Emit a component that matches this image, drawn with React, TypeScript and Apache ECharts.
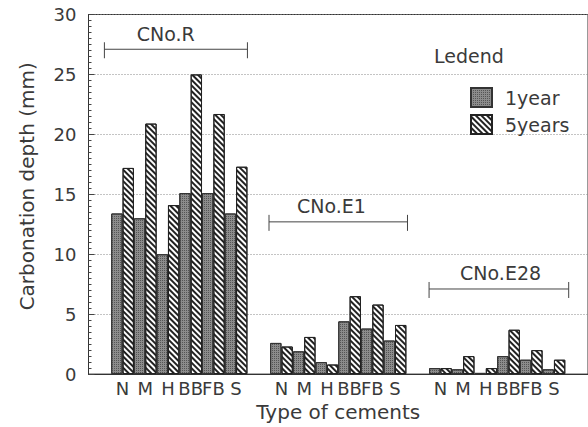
import React, { useEffect, useRef } from 'react';
import * as echarts from 'echarts';

// ---- data ----
const cementTypes = ['N', 'M', 'H', 'BB', 'FB', 'S'];
const groupNames = ['CNo.R', 'CNo.E1', 'CNo.E28'];
const seriesNames = ['1year', '5years'];

const oneYearR = [13.4, 13.0, 10.0, 15.1, 15.1, 13.4];
const fiveYearsR = [17.2, 20.9, 14.1, 25.0, 21.7, 17.3];
const oneYearE1 = [2.6, 1.9, 1.0, 4.4, 3.8, 2.8];
const fiveYearsE1 = [2.3, 3.1, 0.8, 6.5, 5.8, 4.1];
const oneYearE28 = [0.5, 0.4, 0.1, 1.5, 1.2, 0.4];
const fiveYearsE28 = [0.5, 1.5, 0.5, 3.7, 2.0, 1.2];

// bracket annotations (category-index units, y value)
const bracketStart = [0.2, 7.45, 14.5];
const bracketEnd = [6.5, 13.55, 20.65];
const bracketLevel = [27.1, 12.7, 7.1];
const bracketLabelX = [2.9, 10.2, 17.65];

const yTicks = { min: 0, max: 30, interval: 5 };

// ---- build category axis: blank, 6 types, blank, 6 types, blank, 6 types, blank ----
const categories: string[] = [];
const oneYear: (number | null)[] = [];
const fiveYears: (number | null)[] = [];
const oneYearGroups = [oneYearR, oneYearE1, oneYearE28];
const fiveYearsGroups = [fiveYearsR, fiveYearsE1, fiveYearsE28];
groupNames.forEach((_, g) => {
  categories.push('');
  oneYear.push(null);
  fiveYears.push(null);
  cementTypes.forEach((t, i) => {
    categories.push(t);
    oneYear.push(oneYearGroups[g][i]);
    fiveYears.push(fiveYearsGroups[g][i]);
  });
});
categories.push('');
oneYear.push(null);
fiveYears.push(null);

const FONT = 'DejaVu Sans';
const TEXT = '#3a3a3a';
const LINE = '#333';

export default function App() {
  const ref = useRef<HTMLDivElement>(null);
  useEffect(() => {
    const chart = echarts.init(ref.current!, null, { renderer: 'svg' });
    const catW = 23.2;
    const option: any = {
      animation: false,
      backgroundColor: '#fff',
      grid: {
        left: 88.5,
        top: 14.5,
        width: catW * categories.length,
        height: 363,
        show: true,
        borderColor: LINE,
        borderWidth: 1,
        backgroundColor: 'transparent',
      },
      graphic: [
        {
          type: 'text',
          left: 434,
          top: 46,
          style: { text: 'Ledend', font: `19px "${FONT}"`, fill: TEXT },
        },
      ],
      legend: {
        data: seriesNames,
        orient: 'vertical',
        left: 465,
        top: 82,
        itemWidth: 21,
        itemHeight: 19,
        itemGap: 6,
        icon: 'rect',
        textStyle: { fontFamily: FONT, fontSize: 19, color: TEXT, padding: [0, 0, 0, 8] },
      },
      xAxis: [
        {
          type: 'category',
          data: categories,
          axisLine: { onZero: false, lineStyle: { color: LINE, width: 1 } },
          axisTick: { show: false },
          axisLabel: {
            interval: 0,
            margin: 5,
            fontFamily: FONT,
            fontSize: 18,
            color: TEXT,
            hideOverlap: false,
          },
          name: 'Type of cements',
          nameLocation: 'middle',
          nameGap: 19,
          nameTextStyle: { fontFamily: FONT, fontSize: 20, color: TEXT, verticalAlign: 'top' },
          splitLine: { show: false },
        },
        {
          type: 'value',
          min: -0.5,
          max: categories.length - 0.5,
          show: false,
        },
      ],
      yAxis: {
        type: 'value',
        min: yTicks.min,
        max: yTicks.max,
        interval: yTicks.interval,
        axisLine: { show: true, onZero: false, lineStyle: { color: LINE, width: 1 } },
        axisTick: { show: true, inside: true, length: 6, lineStyle: { color: '#444' } },
        minorTick: { show: true, splitNumber: 10, length: 3, lineStyle: { color: '#444' } },
        axisLabel: { margin: 12, fontFamily: FONT, fontSize: 18, color: TEXT, padding: [9, 0, 0, 0] },
        splitLine: { show: true, lineStyle: { color: '#888', type: [1, 2], width: 1 } },
        name: 'Carbonation depth (mm)',
        nameLocation: 'middle',
        nameGap: 52,
        nameTextStyle: { fontFamily: FONT, fontSize: 20, color: TEXT, padding: [0, 0, 0, 16] },
      },
      series: [
        {
          name: seriesNames[0],
          type: 'bar',
          data: oneYear,
          barGap: '0%',
          barCategoryGap: '0%',
          itemStyle: {
            color: '#8c8c8c',
            borderColor: '#333',
            borderWidth: 1,
            decal: {
              symbol: 'rect',
              symbolSize: 1,
              dashArrayX: [1, 1],
              dashArrayY: [1, 1],
              color: '#555',
            },
          },
        },
        {
          name: seriesNames[1],
          type: 'bar',
          data: fiveYears,
          barGap: '0%',
          barCategoryGap: '0%',
          itemStyle: {
            color: '#fff',
            borderColor: '#222',
            borderWidth: 1,
            decal: {
              symbol: 'rect',
              symbolSize: 1,
              dashArrayX: [1, 0],
              dashArrayY: [1.5, 1.9],
              rotation: Math.PI / 4,
              color: '#222',
            },
          },
        },
        {
          type: 'custom',
          xAxisIndex: 1,
          yAxisIndex: 0,
          silent: true,
          data: groupNames.map((_, i) => [bracketStart[i], bracketEnd[i], bracketLevel[i], bracketLabelX[i]]),
          renderItem: (params: any, api: any) => {
            const s = api.coord([api.value(0), api.value(2)]);
            const e = api.coord([api.value(1), api.value(2)]);
            const l = api.coord([api.value(3), api.value(2)]);
            const st = { stroke: '#444', lineWidth: 1 };
            return {
              type: 'group',
              children: [
                { type: 'line', shape: { x1: s[0], y1: s[1], x2: e[0], y2: e[1] }, style: st },
                { type: 'line', shape: { x1: s[0], y1: s[1] - 7, x2: s[0], y2: s[1] + 9 }, style: st },
                { type: 'line', shape: { x1: e[0], y1: e[1] - 7, x2: e[0], y2: e[1] + 9 }, style: st },
                {
                  type: 'text',
                  style: {
                    text: groupNames[params.dataIndex],
                    x: l[0],
                    y: l[1] - 6,
                    align: 'center',
                    verticalAlign: 'bottom',
                    font: `19px "${FONT}"`,
                    fill: TEXT,
                  },
                },
              ],
            };
          },
        },
      ],
    };
    chart.setOption(option);
    return () => chart.dispose();
  }, []);
  return <div ref={ref} style={{ position: 'fixed', left: 0, top: 0, width: 588, height: 427 }} />;
}
